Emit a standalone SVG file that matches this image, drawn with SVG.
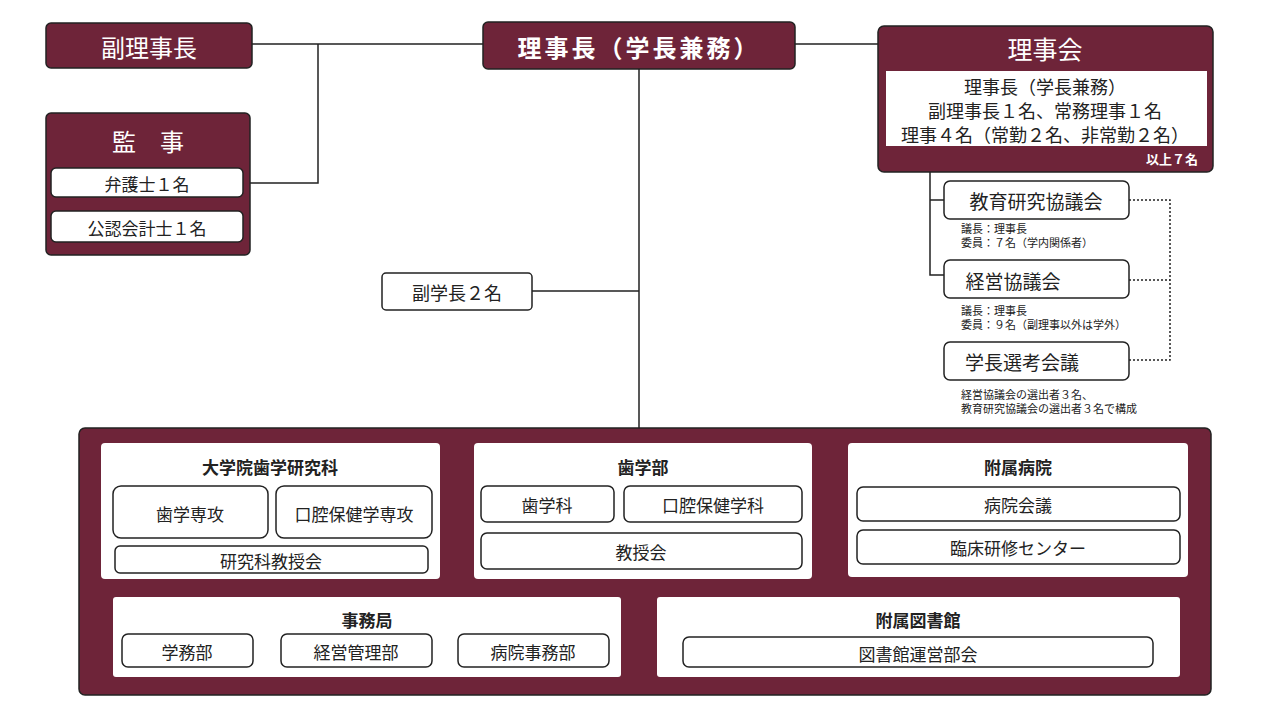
<svg xmlns="http://www.w3.org/2000/svg" width="1280" height="720" viewBox="0 0 1280 720">
<style>
text{font-family:"Noto Sans CJK JP","Noto Sans",sans-serif;text-anchor:middle;dominant-baseline:central}
.d{fill:#6e2439;stroke:#222;stroke-width:1.5}
.w{fill:#fff;stroke:#222;stroke-width:1.5}
.wt{fill:#fff}
.t{fill:#222}
.s{fill:#222;font-size:11px;text-anchor:start}
.ln{stroke:#222;stroke-width:1.5;fill:none}
.dot{stroke:#222;stroke-width:1.5;fill:none;stroke-dasharray:2 2}
</style>
<rect width="1280" height="720" fill="#fff"/>
<g id="connectors">
<path class="ln" d="M252 44H483M318 44V183H244M795 44H878M639 69V428M532 291H639M930 172V275H944M930 200H944"/>
<path class="dot" d="M1129 200H1170V360H1129M1129 280H1170"/>
</g>
<g id="vice-chair"><rect class="d" x="46" y="23" width="206" height="45" rx="5"/><text class="wt" x="149" y="46" font-size="24">副理事長</text></g>
<g id="auditor"><rect class="d" x="46" y="113" width="204" height="142" rx="5"/><text class="wt" x="148" y="140" font-size="24">監　事</text>
<rect class="w" x="51" y="168" width="192" height="29" rx="5"/><text class="t" x="147" y="183" font-size="17">弁護士１名</text>
<rect class="w" x="51" y="211" width="192" height="31" rx="5"/><text class="t" x="147" y="227" font-size="17">公認会計士１名</text></g>
<g id="chair"><rect class="d" x="483" y="22" width="312" height="47" rx="5"/><text class="wt" x="639" y="46" font-size="24" font-weight="bold" letter-spacing="3">理事長（学長兼務）</text></g>
<g id="board"><rect class="d" x="878" y="26" width="335" height="146" rx="6"/><text class="wt" x="1045" y="48" font-size="25">理事会</text>
<rect fill="#fff" x="886" y="71" width="321" height="75"/>
<text class="t" x="1045" y="86" font-size="18">理事長（学長兼務）</text>
<text class="t" x="1045" y="110" font-size="18">副理事長１名、常務理事１名</text>
<text class="t" x="1045" y="134" font-size="18">理事４名（常勤２名、非常勤２名）</text>
<text class="wt" x="1172" y="158" font-size="13" font-weight="bold">以上７名</text></g>
<g id="edu-council"><rect class="w" x="944" y="181" width="185" height="38" rx="6"/><text class="t" x="1036" y="200" font-size="19">教育研究協議会</text>
<text class="s" x="961" y="228">議長：理事長</text>
<text class="s" x="961" y="242">委員：７名（学内関係者）</text></g>
<g id="mgmt-council"><rect class="w" x="944" y="260" width="185" height="38" rx="6"/><text class="t" x="1013" y="280" font-size="19">経営協議会</text>
<text class="s" x="961" y="310">議長：理事長</text>
<text class="s" x="961" y="324">委員：９名（副理事以外は学外）</text></g>
<g id="selection"><rect class="w" x="944" y="342" width="185" height="38" rx="6"/><text class="t" x="1022" y="361" font-size="19">学長選考会議</text>
<text class="s" x="961" y="394">経営協議会の選出者３名、</text>
<text class="s" x="961" y="408">教育研究協議会の選出者３名で構成</text></g>
<g id="vice-president"><rect class="w" x="382" y="273" width="150" height="37" rx="4"/><text class="t" x="457" y="292" font-size="18">副学長２名</text></g>
<g id="university"><rect class="d" x="79" y="428" width="1132" height="267" rx="6"/></g>
<g id="grad"><rect fill="#fff" x="101" y="443" width="339" height="136" rx="4"/><text class="t" x="270" y="466" font-size="17" font-weight="bold">大学院歯学研究科</text>
<rect class="w" x="113" y="486" width="155" height="52" rx="8"/><text class="t" x="190" y="513" font-size="17">歯学専攻</text>
<rect class="w" x="276" y="486" width="156" height="52" rx="8"/><text class="t" x="354" y="513" font-size="17">口腔保健学専攻</text>
<rect class="w" x="115" y="546" width="313" height="27" rx="5"/><text class="t" x="271" y="560" font-size="17">研究科教授会</text></g>
<g id="dental"><rect fill="#fff" x="474" y="443" width="338" height="136" rx="4"/><text class="t" x="643" y="466" font-size="17" font-weight="bold">歯学部</text>
<rect class="w" x="481" y="486" width="133" height="36" rx="6"/><text class="t" x="547" y="504" font-size="17">歯学科</text>
<rect class="w" x="624" y="486" width="178" height="36" rx="6"/><text class="t" x="713" y="504" font-size="17">口腔保健学科</text>
<rect class="w" x="481" y="533" width="321" height="36" rx="6"/><text class="t" x="641" y="551" font-size="17">教授会</text></g>
<g id="hospital"><rect fill="#fff" x="848" y="443" width="340" height="134" rx="4"/><text class="t" x="1018" y="466" font-size="17" font-weight="bold">附属病院</text>
<rect class="w" x="857" y="487" width="323" height="34" rx="6"/><text class="t" x="1018" y="504" font-size="17">病院会議</text>
<rect class="w" x="857" y="530" width="323" height="34" rx="6"/><text class="t" x="1018" y="547" font-size="17">臨床研修センター</text></g>
<g id="office"><rect fill="#fff" x="113" y="597" width="508" height="80" rx="3"/><text class="t" x="367" y="619" font-size="17" font-weight="bold">事務局</text>
<rect class="w" x="122" y="634" width="131" height="33" rx="6"/><text class="t" x="187" y="651" font-size="17">学務部</text>
<rect class="w" x="281" y="634" width="151" height="33" rx="6"/><text class="t" x="356" y="651" font-size="17">経営管理部</text>
<rect class="w" x="458" y="634" width="151" height="33" rx="6"/><text class="t" x="533" y="651" font-size="17">病院事務部</text></g>
<g id="library"><rect fill="#fff" x="657" y="597" width="523" height="80" rx="3"/><text class="t" x="918" y="619" font-size="17" font-weight="bold">附属図書館</text>
<rect class="w" x="683" y="637" width="470" height="30" rx="6"/><text class="t" x="918" y="653" font-size="17">図書館運営部会</text></g>
</svg>
